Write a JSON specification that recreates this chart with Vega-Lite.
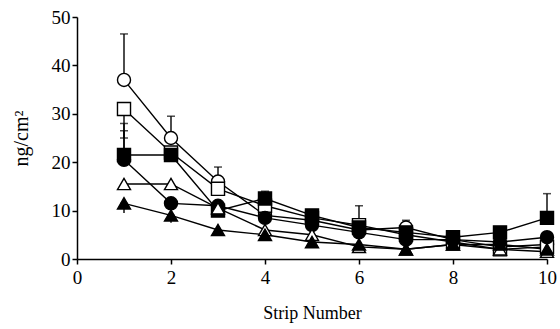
{
  "$schema": "https://vega.github.io/schema/vega-lite/v6.json",
  "width": 470,
  "height": 242,
  "autosize": "none",
  "padding": {"left": 77, "top": 17, "right": 13, "bottom": 70},
  "background": "white",
  "config": {"view": {"stroke": null}, "font": "Liberation Serif"},
  "datasets": {
    "pts": [
      {"series": "oc", "strip": 1, "v": 37}, {"series": "oc", "strip": 2, "v": 25}, {"series": "oc", "strip": 3, "v": 16}, {"series": "oc", "strip": 4, "v": 9}, {"series": "oc", "strip": 5, "v": 8}, {"series": "oc", "strip": 6, "v": 6}, {"series": "oc", "strip": 7, "v": 6.5}, {"series": "oc", "strip": 8, "v": 4}, {"series": "oc", "strip": 9, "v": 2.5}, {"series": "oc", "strip": 10, "v": 3},
      {"series": "os", "strip": 1, "v": 31}, {"series": "os", "strip": 2, "v": 22}, {"series": "os", "strip": 3, "v": 14.5}, {"series": "os", "strip": 4, "v": 11}, {"series": "os", "strip": 5, "v": 8.5}, {"series": "os", "strip": 6, "v": 7}, {"series": "os", "strip": 7, "v": 5}, {"series": "os", "strip": 8, "v": 3.5}, {"series": "os", "strip": 9, "v": 2}, {"series": "os", "strip": 10, "v": 2.5},
      {"series": "fs", "strip": 1, "v": 21.5}, {"series": "fs", "strip": 2, "v": 21.5}, {"series": "fs", "strip": 3, "v": 10}, {"series": "fs", "strip": 4, "v": 12.5}, {"series": "fs", "strip": 5, "v": 9}, {"series": "fs", "strip": 6, "v": 6.5}, {"series": "fs", "strip": 7, "v": 5.5}, {"series": "fs", "strip": 8, "v": 4.5}, {"series": "fs", "strip": 9, "v": 5.5}, {"series": "fs", "strip": 10, "v": 8.5},
      {"series": "fc", "strip": 1, "v": 20.5}, {"series": "fc", "strip": 2, "v": 11.5}, {"series": "fc", "strip": 3, "v": 11}, {"series": "fc", "strip": 4, "v": 8.5}, {"series": "fc", "strip": 5, "v": 7}, {"series": "fc", "strip": 6, "v": 5.5}, {"series": "fc", "strip": 7, "v": 4}, {"series": "fc", "strip": 8, "v": 4}, {"series": "fc", "strip": 9, "v": 3.5}, {"series": "fc", "strip": 10, "v": 4.5},
      {"series": "ot", "strip": 1, "v": 15.5}, {"series": "ot", "strip": 2, "v": 15.5}, {"series": "ot", "strip": 3, "v": 10.5}, {"series": "ot", "strip": 4, "v": 6}, {"series": "ot", "strip": 5, "v": 5}, {"series": "ot", "strip": 6, "v": 2.5}, {"series": "ot", "strip": 7, "v": 2}, {"series": "ot", "strip": 8, "v": 3}, {"series": "ot", "strip": 9, "v": 2}, {"series": "ot", "strip": 10, "v": 1.5},
      {"series": "ft", "strip": 1, "v": 11.5}, {"series": "ft", "strip": 2, "v": 9}, {"series": "ft", "strip": 3, "v": 6}, {"series": "ft", "strip": 4, "v": 5}, {"series": "ft", "strip": 5, "v": 3.5}, {"series": "ft", "strip": 6, "v": 3}, {"series": "ft", "strip": 7, "v": 2}, {"series": "ft", "strip": 8, "v": 3}, {"series": "ft", "strip": 9, "v": 3}, {"series": "ft", "strip": 10, "v": 2}
    ],
    "errs": [
      {"series": "oc", "strip": 1, "lo": 37, "hi": 46.5},
      {"series": "fs", "strip": 1, "lo": 21.5, "hi": 28},
      {"series": "fc", "strip": 1, "lo": 20.5, "hi": 26.5},
      {"series": "os", "strip": 1, "lo": 31, "hi": 25},
      {"series": "ft", "strip": 1, "lo": 9.5, "hi": 11.5},
      {"series": "oc", "strip": 2, "lo": 25, "hi": 29.5},
      {"series": "ft", "strip": 2, "lo": 7.5, "hi": 9},
      {"series": "oc", "strip": 3, "lo": 16, "hi": 19},
      {"series": "os", "strip": 3, "lo": 13, "hi": 14.5},
      {"series": "fs", "strip": 4, "lo": 12.5, "hi": 14},
      {"series": "os", "strip": 6, "lo": 7, "hi": 11},
      {"series": "oc", "strip": 7, "lo": 6.5, "hi": 8},
      {"series": "fs", "strip": 10, "lo": 8.5, "hi": 13.5}
    ]
  },
  "layer": [
    {
      "data": {"name": "pts"},
      "mark": {"type": "line", "color": "black", "strokeWidth": 1.4},
      "encoding": {
        "x": {"field": "strip", "type": "quantitative", "scale": {"domain": [0, 10], "nice": false},
          "axis": {"values": [0, 2, 4, 6, 8, 10], "title": "Strip Number", "grid": false, "domainColor": "black", "domainWidth": 1.5, "tickColor": "black", "tickWidth": 1.5, "tickSize": 5, "labelFont": "Liberation Serif", "labelFontSize": 19, "labelColor": "black", "labelPadding": 4, "titleFont": "Liberation Serif", "titleFontSize": 18, "titleFontWeight": "normal", "titleColor": "black", "titlePadding": 17, "labelFlush": false}},
        "y": {"field": "v", "type": "quantitative", "scale": {"domain": [0, 50], "nice": false},
          "axis": {"values": [0, 5, 10, 15, 20, 25, 30, 35, 40, 45, 50], "labelExpr": "datum.value % 10 == 0 ? datum.label : ''", "title": "ng/cm²", "grid": false, "domainColor": "black", "domainWidth": 1.5, "tickColor": "black", "tickWidth": 1.5, "tickSize": 5, "labelFont": "Liberation Serif", "labelFontSize": 19, "labelColor": "black", "labelPadding": 2, "titleFont": "Liberation Serif", "titleFontSize": 20, "titleFontWeight": "normal", "titleColor": "black", "titlePadding": 20}},
        "detail": {"field": "series"}
      }
    },
    {
      "data": {"name": "errs"},
      "mark": {"type": "rule", "color": "black", "strokeWidth": 1.4},
      "encoding": {
        "x": {"field": "strip", "type": "quantitative"},
        "y": {"field": "lo", "type": "quantitative"},
        "y2": {"field": "hi"}
      }
    },
    {
      "data": {"name": "errs"},
      "mark": {"type": "tick", "orient": "horizontal", "color": "black", "size": 8, "thickness": 1.5},
      "encoding": {
        "x": {"field": "strip", "type": "quantitative"},
        "y": {"field": "hi", "type": "quantitative"}
      }
    },
    {
      "data": {"name": "pts"},
      "mark": {"type": "point", "filled": true, "size": 170, "stroke": "black", "strokeWidth": 1.4, "opacity": 1},
      "encoding": {
        "x": {"field": "strip", "type": "quantitative"},
        "y": {"field": "v", "type": "quantitative"},
        "shape": {"field": "series", "type": "nominal", "scale": {"domain": ["oc", "os", "fs", "fc", "ot", "ft"], "range": ["circle", "square", "square", "circle", "triangle-up", "triangle-up"]}, "legend": null},
        "fill": {"field": "series", "type": "nominal", "scale": {"domain": ["oc", "os", "fs", "fc", "ot", "ft"], "range": ["white", "white", "black", "black", "white", "black"]}, "legend": null}
      }
    }
  ]
}
